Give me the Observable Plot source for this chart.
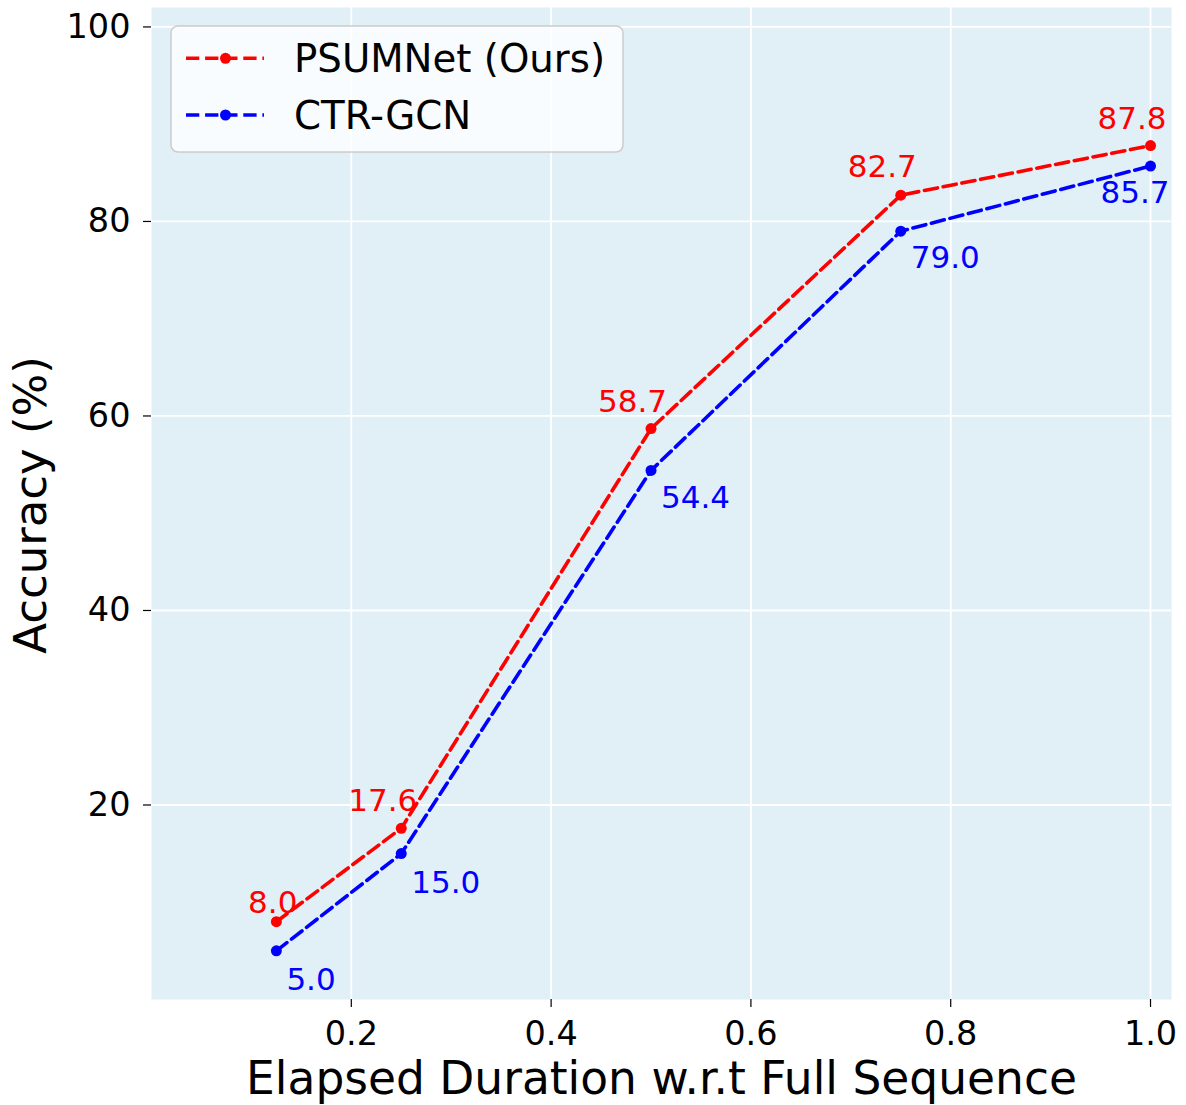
<!DOCTYPE html>
<html>
<head>
<meta charset="utf-8">
<script src="https://cdn.jsdelivr.net/npm/d3@7"></script>
<script src="https://cdn.jsdelivr.net/npm/@observablehq/plot@0.6"></script>
<style>
  html, body { margin: 0; padding: 0; background: white; }
  #chart svg { display: block; }
</style>
</head>
<body>
<div id="chart"></div>
<script>
// ---- data ----
const durations = [0.125, 0.25, 0.5, 0.75, 1.0];
const psumnetAcc = [8.0, 17.6, 58.7, 82.7, 87.8];
const ctrgcnAcc = [5.0, 15.0, 54.4, 79.0, 85.7];
const seriesNames = ["PSUMNet (Ours)", "CTR-GCN"];
const seriesColors = ["#ff0000", "#0000ff"];
const xTicks = [0.2, 0.4, 0.6, 0.8, 1.0];
const yTicks = [20, 40, 60, 80, 100];
const xLabel = "Elapsed Duration w.r.t Full Sequence";
const yLabel = "Accuracy (%)";

// ---- layout (label offsets in pixels, per point) ----
const psumLabelDx = [21, 16, 16, 16, 16];
const psumLabelDy = [-9, -17, -17, -18, -17];
const ctrLabelDx = [10, 10, 10, 10, -50];
const ctrLabelDy = [39, 39, 38, 37, 37];

const rows = [];
durations.forEach((d, i) => {
  rows.push({series: seriesNames[0], x: d, y: psumnetAcc[i], i});
  rows.push({series: seriesNames[1], x: d, y: ctrgcnAcc[i], i});
});
const psumRows = rows.filter(r => r.series === seriesNames[0]);
const ctrRows = rows.filter(r => r.series === seriesNames[1]);

const FONT = "DejaVu Sans";
const lw = 3.6;
const dash = "13.3,5.8";

const marks = [
  Plot.frame({fill: "#e1eff7", stroke: "none"}),
  Plot.gridX(xTicks, {stroke: "white", strokeOpacity: 1, strokeWidth: 1.8}),
  Plot.gridY(yTicks, {stroke: "white", strokeOpacity: 1, strokeWidth: 1.8}),
  Plot.axisX(xTicks, {tickSize: 8, tickPadding: 13.5, fontSize: 33.5, tickFormat: d3.format(".1f"), label: null, strokeWidth: 1.2}),
  Plot.axisY(yTicks, {tickSize: 8, tickPadding: 13, fontSize: 33.5, tickFormat: d => String(d), label: null, strokeWidth: 1.2}),
  Plot.line(psumRows, {x: "x", y: "y", stroke: seriesColors[0], strokeWidth: lw, strokeDasharray: dash}),
  Plot.line(ctrRows, {x: "x", y: "y", stroke: seriesColors[1], strokeWidth: lw, strokeDasharray: dash}),
  Plot.dot(psumRows, {x: "x", y: "y", r: 5.5, fill: seriesColors[0], stroke: "none"}),
  Plot.dot(ctrRows, {x: "x", y: "y", r: 5.5, fill: seriesColors[1], stroke: "none"}),
];
psumRows.forEach((r, k) => {
  marks.push(Plot.text([r], {x: "x", y: "y", text: d => d.y.toFixed(1), fill: seriesColors[0], fontSize: 31,
    textAnchor: "end", lineAnchor: "bottom", dx: psumLabelDx[k], dy: psumLabelDy[k]}));
});
ctrRows.forEach((r, k) => {
  marks.push(Plot.text([r], {x: "x", y: "y", text: d => d.y.toFixed(1), fill: seriesColors[1], fontSize: 31,
    textAnchor: "start", lineAnchor: "bottom", dx: ctrLabelDx[k], dy: ctrLabelDy[k]}));
});
marks.push(Plot.text([xLabel], {frameAnchor: "bottom", lineAnchor: "bottom", dy: 94, fontSize: 45.5, fill: "black"}));

const chart = Plot.plot({
  width: 1186,
  height: 1105,
  marginLeft: 151,
  marginRight: 15,
  marginTop: 7,
  marginBottom: 106,
  style: {fontFamily: FONT, background: "white", color: "black"},
  x: {domain: [0, 1.021]},
  y: {domain: [0, 102]},
  marks
});
document.getElementById("chart").appendChild(chart);

const svg = d3.select(chart);

// ---- y axis title ----
svg.append("text")
  .attr("transform", "translate(46,505) rotate(-90)")
  .attr("text-anchor", "middle")
  .attr("font-family", FONT)
  .attr("font-size", 45)
  .attr("fill", "black")
  .text(yLabel);

// ---- legend ----
const lg = svg.append("g").attr("font-family", FONT).attr("text-anchor", "start");
lg.append("rect")
  .attr("x", 171).attr("y", 26).attr("width", 452).attr("height", 126)
  .attr("rx", 7).attr("ry", 7)
  .attr("fill", "white").attr("fill-opacity", 0.8)
  .attr("stroke", "#cccccc").attr("stroke-width", 1.5);
const rowY = [58.3, 115];
seriesNames.forEach((name, i) => {
  lg.append("line")
    .attr("x1", 186).attr("x2", 264).attr("y1", rowY[i]).attr("y2", rowY[i])
    .attr("stroke", seriesColors[i]).attr("stroke-width", lw).attr("stroke-dasharray", dash);
  lg.append("circle").attr("cx", 225.5).attr("cy", rowY[i]).attr("r", 5.5).attr("fill", seriesColors[i]);
  lg.append("text").attr("x", 294).attr("y", rowY[i] + 13.8)
    .attr("text-anchor", "start")
    .attr("font-size", 38.7).attr("fill", "black").text(name);
});
</script>
</body>
</html>
